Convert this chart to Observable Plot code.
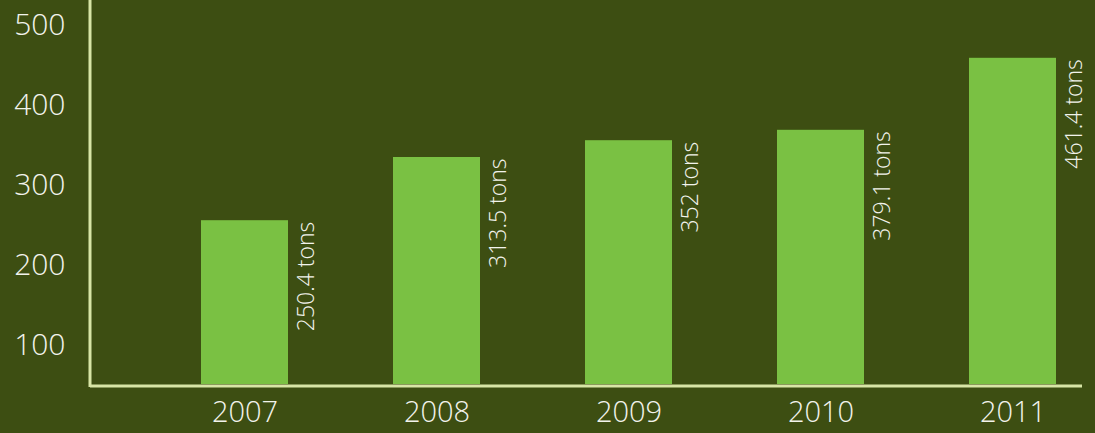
<!DOCTYPE html>
<html><head><meta charset="utf-8">
<script src="https://cdn.jsdelivr.net/npm/d3@7"></script>
<script src="https://cdn.jsdelivr.net/npm/@observablehq/plot@0.6"></script>
<style>
html,body{margin:0;padding:0;background:#3d4e12;overflow:hidden;}
#chart svg{display:block;}
</style></head><body><div id="chart"></div>
<script>
const years = ["2007", "2008", "2009", "2010", "2011"];
const barHeights = [256, 335, 356, 369, 459];
const valueLabels = ["250.4 tons", "313.5 tons", "352 tons", "379.1 tons", "461.4 tons"];
const yTicks = [100, 200, 300, 400, 500];
const yBase = 51.25;
const yTop = 531.25;

const data = years.map((year, i) => ({year, h: barHeights[i], label: valueLabels[i]}));

const bg = "#3d4e12", barColor = "#7ac143", axisColor = "#d8e5a6", textColor = "#f2f3ec";
const font = "'Open Sans', Lato, sans-serif";

const leftAxisLine = (index, scales, values, dims) =>
  d3.create("svg:line")
    .attr("x1", dims.marginLeft).attr("x2", dims.marginLeft)
    .attr("y1", 0).attr("y2", dims.height - dims.marginBottom + 3)
    .attr("stroke", axisColor).attr("stroke-width", 3)
    .node();

const chart = Plot.plot({
  width: 1095,
  height: 433,
  marginLeft: 90,
  marginRight: 13,
  marginTop: 0,
  marginBottom: 49,
  style: {background: bg, color: textColor, fontFamily: font},
  x: {domain: years, paddingInner: 0.548, paddingOuter: 0.35, align: 0.81},
  y: {domain: [yBase, yTop]},
  marks: [
    Plot.barY(data, {x: "year", y1: yBase, y2: "h", fill: barColor}),
    Plot.ruleY([yBase], {stroke: axisColor, strokeWidth: 3, dy: 1.5}),
    leftAxisLine,
    Plot.axisY(yTicks, {tickSize: 0, tickPadding: 25, fontSize: 30, fill: textColor, fontWeight: 300, label: null}),
    Plot.axisX({tickSize: 0, tickPadding: 17, fontSize: 29, fill: textColor, fontWeight: 300, label: null}),
    Plot.text(data, {x: "year", y: "h", text: "label", rotate: -90, textAnchor: "end", dx: 62, dy: 1, fontSize: 23, fontWeight: 300, fill: textColor})
  ]
});
document.getElementById("chart").append(chart);
</script>
</body></html>
